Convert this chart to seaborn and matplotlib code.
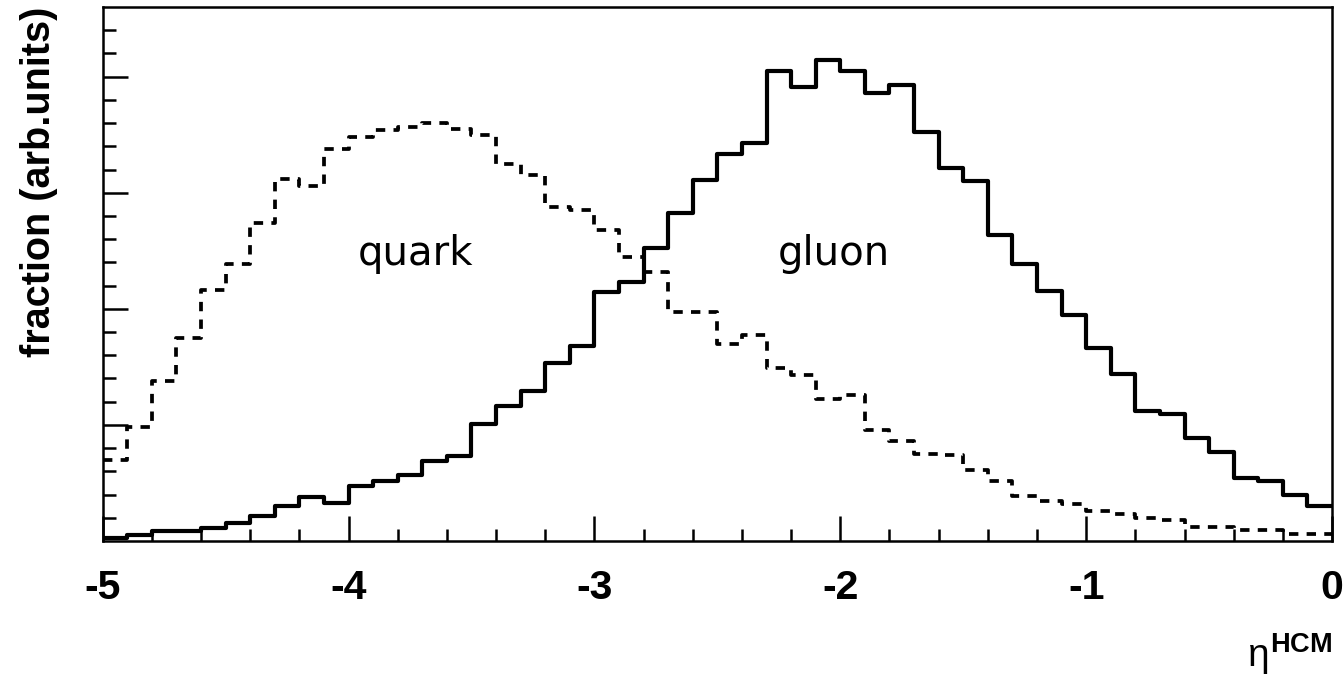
import numpy as np
import pandas as pd
import matplotlib
matplotlib.use("Agg")
import matplotlib.pyplot as plt
import seaborn as sns

# 50 bins of width 0.1 in eta^HCM from -5 to 0
bin_edges = [round(-5.0 + 0.1 * i, 1) for i in range(51)]
bin_centers = [round(e + 0.05, 2) for e in bin_edges[:-1]]

quark = [0.70, 0.985, 1.375, 1.745, 2.16, 2.39, 2.74, 3.12, 3.06, 3.38,
         3.48, 3.54, 3.57, 3.60, 3.55, 3.50, 3.25, 3.15, 2.88, 2.85,
         2.68, 2.45, 2.32, 1.975, 1.975, 1.70, 1.775, 1.49, 1.43, 1.22,
         1.26, 0.954, 0.86, 0.75, 0.74, 0.61, 0.52, 0.39, 0.345, 0.323,
         0.26, 0.23, 0.20, 0.185, 0.123, 0.123, 0.092, 0.092, 0.06, 0.06]

gluon = [0.025, 0.05, 0.09, 0.09, 0.11, 0.155, 0.215, 0.30, 0.38, 0.33,
         0.47, 0.52, 0.57, 0.69, 0.73, 1.006, 1.16, 1.29, 1.53, 1.68,
         2.145, 2.23, 2.52, 2.825, 3.11, 3.33, 3.43, 4.05, 3.91, 4.14,
         4.05, 3.86, 3.93, 3.52, 3.215, 3.10, 2.64, 2.385, 2.155, 1.95,
         1.66, 1.437, 1.12, 1.09, 0.89, 0.77, 0.54, 0.52, 0.40, 0.30]

x_ticks = [-5, -4, -3, -2, -1, 0]
x_tick_labels = ["-5", "-4", "-3", "-2", "-1", "0"]

df = pd.DataFrame({"eta": bin_centers, "quark": quark, "gluon": gluon})

sns.set_style("ticks")
plt.rcParams["font.family"] = ["Liberation Sans", "DejaVu Sans"]
plt.rcParams["text.color"] = "black"
plt.rcParams["axes.labelcolor"] = "black"
plt.rcParams["xtick.color"] = "black"
plt.rcParams["ytick.color"] = "black"
plt.rcParams["mathtext.fontset"] = "custom"
plt.rcParams["mathtext.rm"] = "Liberation Sans"
plt.rcParams["mathtext.it"] = "Liberation Sans"
plt.rcParams["mathtext.bf"] = "Liberation Sans:bold"

fig = plt.figure(figsize=(13.44, 6.79), dpi=100)
ax = fig.add_axes([0.0764, 0.2032, 0.9147, 0.7865])

sns.histplot(data=df, x="eta", weights="quark", bins=bin_edges,
             element="step", fill=False, color="black", linewidth=2.7,
             linestyle=(0, (2.5, 2.2)), ax=ax)
sns.histplot(data=df, x="eta", weights="gluon", bins=bin_edges,
             element="step", fill=False, color="black", linewidth=3.0, ax=ax)

ax.set_xlim(-5, 0)
ax.set_ylim(0, 4.6)

ax.set_xticks(x_ticks)
ax.set_xticklabels(x_tick_labels, fontsize=29.5, fontweight="bold",
                   color="black")
ax.set_xticks(np.round(np.arange(-5, 0.001, 0.2), 1), minor=True)
ax.set_yticks([1, 2, 3, 4])
ax.set_yticks(np.round(np.arange(0.2, 4.6, 0.2), 1), minor=True)
ax.set_yticklabels([])

ax.tick_params(which="both", direction="in", top=False, right=False,
               width=1.8, color="black")
ax.tick_params(which="major", length=18)
ax.tick_params(which="minor", length=9)
ax.tick_params(axis="x", which="major", pad=20)

for spine in ax.spines.values():
    spine.set_linewidth(1.8)
    spine.set_color("black")

ax.set_ylabel("fraction (arb.units)", fontsize=28.5, fontweight="bold",
              loc="top", color="black")
ax.yaxis.set_label_coords(-0.036, 1.0)

ax.set_xlabel(r"$\eta^{\mathbf{HCM}}$", fontsize=28, loc="right",
              color="black")
ax.xaxis.label.set_verticalalignment("baseline")
ax.xaxis.set_label_coords(1.0, -0.236)

ax.text(-3.726, 2.38, "quark", fontsize=29, family=["DejaVu Sans"],
        color="black", ha="center", va="baseline")
ax.text(-2.026, 2.38, "gluon", fontsize=29, family=["DejaVu Sans"],
        color="black", ha="center", va="baseline")

fig.savefig("out.png", dpi=100, facecolor="white")
